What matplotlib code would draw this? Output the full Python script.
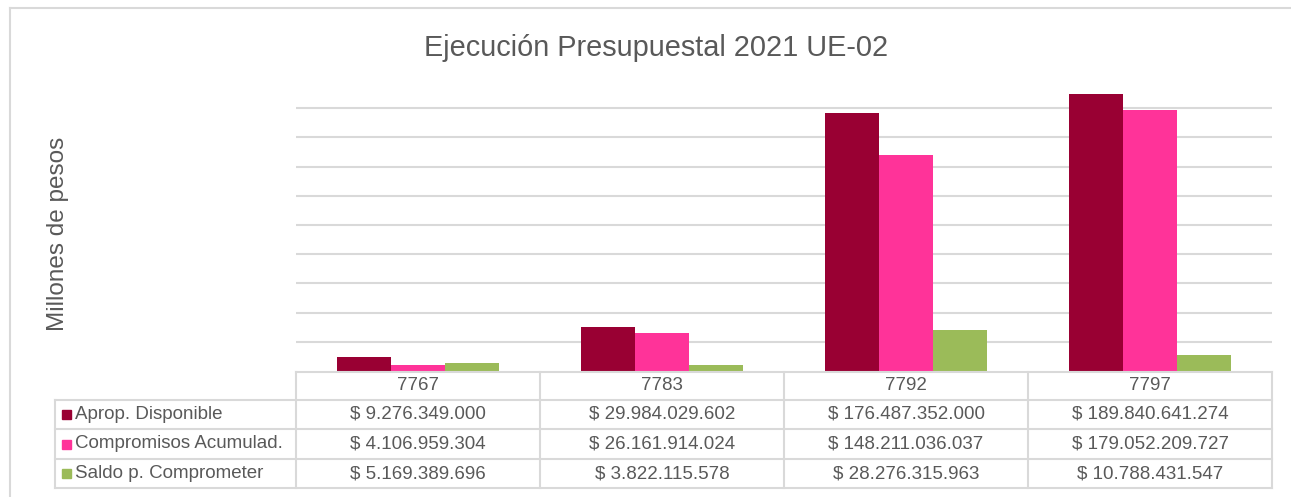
import numpy as np
import matplotlib
matplotlib.use("Agg")
import matplotlib.pyplot as plt
from matplotlib.lines import Line2D
from matplotlib.patches import Rectangle

plt.rcParams["font.family"] = ["Liberation Sans", "DejaVu Sans"]

# data
categories = ["7767", "7783", "7792", "7797"]
series_names = ["Aprop. Disponible", "Compromisos Acumulad.", "Saldo p. Comprometer"]
aprop = [9276349000, 29984029602, 176487352000, 189840641274]
compromisos = [4106959304, 26161914024, 148211036037, 179052209727]
saldo = [5169389696, 3822115578, 28276315963, 10788431547]
colors = ["#990033", "#FF3399", "#9BBB59"]

W, H = 1291, 497
fig = plt.figure(figsize=(W / 100, H / 100), dpi=100)

def fx(px):
    return px / W

def fy(py):
    return 1 - py / H

text_col = "#595959"
line_col = "#D9D9D9"

# plot area
left, right, base, top = 296, 1272, 371, 79
ax = fig.add_axes([fx(left), fy(base), fx(right) - fx(left), (base - top) / H])
x = np.arange(len(categories))
bw = 0.221
for i, vals in enumerate([aprop, compromisos, saldo]):
    ax.bar(x + (i - 1) * bw, vals, width=bw, color=colors[i], zorder=3)
ax.set_xlim(-0.5, len(categories) - 0.5)
ax.set_ylim(0, 200e9)
ax.set_yticks(np.arange(20e9, 190e9, 20e9))
ax.yaxis.grid(True, color=line_col, lw=1.5, zorder=0)
ax.set_xticks([])
ax.tick_params(axis="y", length=0, labelleft=False)
for s in ax.spines.values():
    s.set_visible(False)

fig.text(fx(656), fy(56), "Ejecución Presupuestal 2021 UE-02", ha="center", va="baseline",
         fontsize=20.8, color=text_col)
fig.text(fx(58), fy(234), "Millones de pesos", rotation=90, ha="center", va="center",
         fontsize=17.5, color=text_col)

# chart border (left and top only visible)
fig.add_artist(Line2D([fx(10), fx(10)], [fy(8), 0], color=line_col, lw=1.5))
fig.add_artist(Line2D([fx(10), 1], [fy(8), fy(8)], color=line_col, lw=1.5))

# data table
col_edges = [296, 540, 784, 1028, 1272]
row_edges = [372, 400, 429, 459, 488]
legend_left = 55

def hline(y, x0, x1):
    fig.add_artist(Line2D([fx(x0), fx(x1)], [fy(y), fy(y)], color=line_col, lw=1.5))

def vline(xp, y0, y1):
    fig.add_artist(Line2D([fx(xp), fx(xp)], [fy(y0), fy(y1)], color=line_col, lw=1.5))

hline(row_edges[0], col_edges[0], col_edges[-1])
for y in row_edges[1:]:
    hline(y, legend_left, col_edges[-1])
for xp in col_edges:
    vline(xp, row_edges[0], row_edges[-1])
vline(legend_left, row_edges[1], row_edges[-1])

for j, cat in enumerate(categories):
    cx = (col_edges[j] + col_edges[j + 1]) / 2
    cy = (row_edges[0] + row_edges[1]) / 2
    fig.text(fx(cx), fy(cy), cat, ha="center", va="center", fontsize=13.5, color=text_col)

def fmt(v):
    return "$ " + f"{v:,}".replace(",", ".")

for i, vals in enumerate([aprop, compromisos, saldo]):
    cy = (row_edges[i + 1] + row_edges[i + 2]) / 2
    fig.add_artist(Rectangle((fx(62), fy(cy + 4.5)), fx(9), 9 / H, color=colors[i]))
    fig.text(fx(75), fy(cy), series_names[i], ha="left", va="center", fontsize=13.5, color=text_col)
    for j, v in enumerate(vals):
        cx = (col_edges[j] + col_edges[j + 1]) / 2
        fig.text(fx(cx), fy(cy), fmt(v), ha="center", va="center", fontsize=13.5, color=text_col)

fig.savefig("out.png", dpi=100)
